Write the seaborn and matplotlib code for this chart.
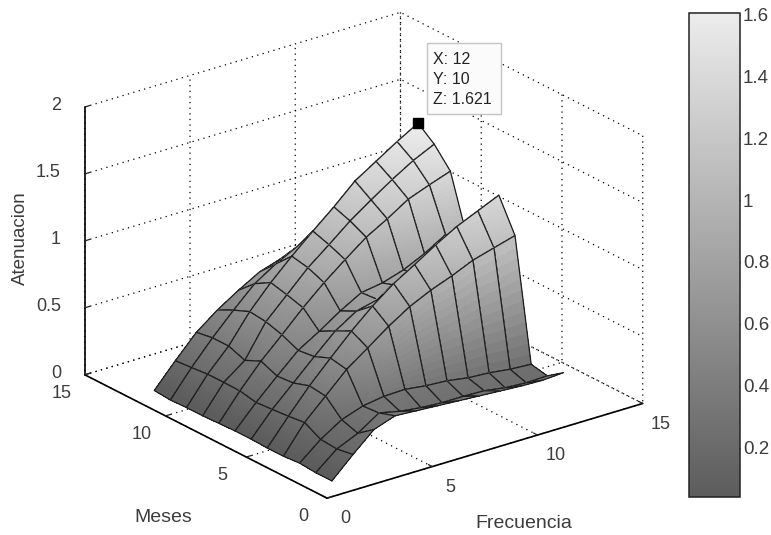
import numpy as np
import matplotlib
matplotlib.use("Agg")
import matplotlib.pyplot as plt
from matplotlib.cm import ScalarMappable
from matplotlib.colors import Normalize
from matplotlib.patches import Rectangle
import seaborn as sns

# eje X y eje Y de la superficie
frecuencia = [1, 2, 3, 4, 5, 6, 7, 8, 9, 10, 11, 12]
meses = [1, 2, 3, 4, 5, 6, 7, 8, 9, 10, 11, 12]

# atenuacion, una lista por mes
mes_01 = [.02, .17, .31, .365, .355, .345, .335, .325, .315, .305, .30, .31]
mes_02 = [.02, .15, .22, .325, .29, .27, .26, .26, .255, .23, .22, .225]
mes_03 = [.03, .16, .26, .315, .34, .345, .325, .315, .29, .28, .26, .25]
mes_04 = [.02, .225, .375, .527, .64, .755, .855, .93, .99, 1.06, 1.105, 1.15]
mes_05 = [.02, .21, .39, .55, .705, .845, .965, 1.06, 1.16, 1.25, 1.32, 1.39]
mes_06 = [.025, .20, .35, .50, .645, .745, .785, .84, .88, .95, 1.03, 1.10]
mes_07 = [.025, .19, .34, .485, .58, .685, .775, .80, .85, .925, 1.02, .97]
mes_08 = [.02, .215, .39, .54, .695, .835, .96, 1.08, 1.17, 1.27, 1.33, 1.385]
mes_09 = [.015, .217, .335, .576, .73, .885, 1.01, 1.14, 1.25, 1.355, 1.45, 1.525]
mes_10 = [.015, .217, .38, .59, .76, .91, 1.05, 1.184, 1.33, 1.43, 1.53, 1.621]
mes_11 = [.01, .205, .38, .54, .69, .79, .87, .93, 1.0, 1.05, 1.10, 1.13]
mes_12 = [.02, .195, .36, .48, .58, .67, .72, .78, .82, .86, .90, .93]

tip_x, tip_y, tip_z = 12, 10, 1.621
ticks_xy = [0, 5, 10, 15]
ticks_z = [0, 0.5, 1, 1.5, 2]
ticks_cb = [0.2, 0.4, 0.6, 0.8, 1, 1.2, 1.4, 1.6]

Z = np.array([mes_01, mes_02, mes_03, mes_04, mes_05, mes_06,
              mes_07, mes_08, mes_09, mes_10, mes_11, mes_12])

sns.set_theme(style="white")
plt.rcParams["font.family"] = ["Liberation Sans", "DejaVu Sans"]
TXT = "#3c3c3c"
W, H = 771, 535

fig = plt.figure(figsize=(W / 100, H / 100), dpi=100)
ax = fig.add_axes([107 / W, 23 / H, 500 / W, 500 / H], projection="3d",
                  computed_zorder=False)
ax.patch.set_alpha(0)
ax.set_proj_type("ortho")
ax.view_init(elev=23, azim=-127.5)
ax.set_box_aspect((1, 1, 0.731), zoom=1.23)

cmap = sns.blend_palette(["#5c5c5c", "#ececec"], as_cmap=True)
norm = Normalize(vmin=0.04, vmax=1.605)

# se pinta celda a celda de atras hacia adelante para ocultar las lineas
t = np.linspace(0, 1, 13)
u, v = np.meshgrid(t, t)
orden = 0
for iy in range(len(meses) - 2, -1, -1):
    for ix in range(len(frecuencia) - 2, -1, -1):
        x0, x1 = frecuencia[ix], frecuencia[ix + 1]
        y0, y1 = meses[iy], meses[iy + 1]
        cx = x0 + (x1 - x0) * u
        cy = y0 + (y1 - y0) * v
        cz = (Z[iy, ix] * (1 - u) * (1 - v) + Z[iy, ix + 1] * u * (1 - v)
              + Z[iy + 1, ix] * (1 - u) * v + Z[iy + 1, ix + 1] * u * v)
        ax.plot_surface(cx, cy, cz, rstride=1, cstride=1, cmap=cmap, norm=norm,
                        linewidth=0, antialiased=False, shade=False, zorder=orden)
        ax.plot([x0, x1, x1, x0, x0], [y0, y0, y1, y1, y0],
                [Z[iy, ix], Z[iy, ix + 1], Z[iy + 1, ix + 1], Z[iy + 1, ix], Z[iy, ix]],
                color="#1c1c1c", lw=0.9, zorder=orden + 0.5)
        orden += 1

ax.scatter([tip_x], [tip_y], [tip_z], marker="s", s=50, c="black",
           depthshade=False, zorder=orden + 1)

ax.set_xlim(0, 15, view_margin=0)
ax.set_ylim(0, 15, view_margin=0)
ax.set_zlim(0, 2, view_margin=0)
ax.set_xticks(ticks_xy)
ax.set_yticks(ticks_xy)
ax.set_zticks(ticks_z)
ax.set_zticklabels(["0", "0.5", "1", "1.5", "2"])

for axis in (ax.xaxis, ax.yaxis, ax.zaxis):
    axis.set_pane_color((1, 1, 1, 1))
    axis.pane.set_edgecolor("none")
    axis.line.set_color("black")
    axis.line.set_linewidth(1.2)
    axis._axinfo["grid"].update(color="black", linewidth=0.9, linestyle=(0, (1, 3.5)))
    axis._axinfo["tick"].update(inward_factor=0, outward_factor=0.2, linewidth={True: 0.9, False: 0.9})
ax.zaxis.set_ticks_position("upper")
ax.tick_params(axis="x", labelsize=13, labelcolor=TXT, pad=6)
ax.tick_params(axis="y", labelsize=13, labelcolor=TXT, pad=6)
ax.tick_params(axis="z", labelsize=13, labelcolor=TXT, pad=0)
for lab in ax.get_xticklabels() + ax.get_yticklabels():
    lab.set_va("bottom")
for lab in ax.get_zticklabels():
    lab.set_va("center")
    lab.set_ha("right")

fig.text(163 / W, 1 - 517 / H, "Meses", fontsize=14, color=TXT, ha="center", va="center")
fig.text(524 / W, 1 - 524 / H, "Frecuencia", fontsize=14, color=TXT, ha="center", va="center")
fig.text(20 / W, 1 - 238 / H, "Atenuacion", fontsize=13.5, color=TXT, rotation=90,
         ha="center", va="center")

# cuadro del data tip
fig.add_artist(Rectangle((427 / W, 1 - 114 / H), 74 / W, 71 / H, transform=fig.transFigure,
                         fc="#fbfbfb", ec="#c4c4c4", lw=1, zorder=2))
for linea, py in zip([f"X: {tip_x}", f"Y: {tip_y}", f"Z: {tip_z}"], [60, 80, 100]):
    fig.text(433 / W, 1 - py / H, linea, fontsize=11.5, color="#222222", va="center", zorder=3)

# barra de color
cax = fig.add_axes([689 / W, 38 / H, 51 / W, 484 / H])
cb = fig.colorbar(ScalarMappable(norm=norm, cmap=cmap), cax=cax, ticks=ticks_cb)
cb.ax.set_yticklabels(["0.2", "0.4", "0.6", "0.8", "1", "1.2", "1.4", "1.6"])
cb.ax.tick_params(left=True, right=True, direction="in", length=4, width=0.9,
                  labelsize=13.5, labelcolor=TXT, pad=2, color="black")
cb.outline.set_edgecolor("#222222")
cb.outline.set_linewidth(1.1)

plt.savefig("out.png", dpi=100)
